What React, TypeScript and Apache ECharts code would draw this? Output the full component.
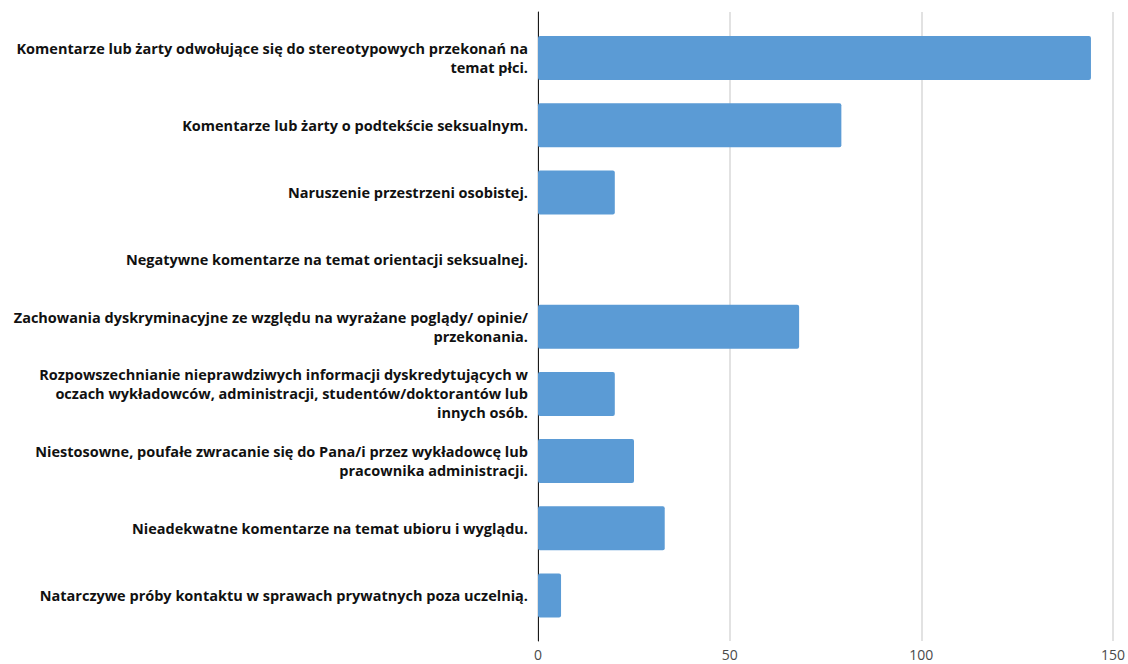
import React, { useEffect, useRef } from "react";
import * as echarts from "echarts";

const categories: string[] = [
  "Komentarze lub żarty odwołujące się do stereotypowych przekonań na\ntemat płci.",
  "Komentarze lub żarty o podtekście seksualnym.",
  "Naruszenie przestrzeni osobistej.",
  "Negatywne komentarze na temat orientacji seksualnej.",
  "Zachowania dyskryminacyjne ze względu na wyrażane poglądy/ opinie/\nprzekonania.",
  "Rozpowszechnianie nieprawdziwych informacji dyskredytujących w\noczach wykładowców, administracji, studentów/doktorantów lub\ninnych osób.",
  "Niestosowne, poufałe zwracanie się do Pana/i przez wykładowcę lub\npracownika administracji.",
  "Nieadekwatne komentarze na temat ubioru i wyglądu.",
  "Natarczywe próby kontaktu w sprawach prywatnych poza uczelnią.",
];

const values: number[] = [144, 79, 20, 0, 68, 20, 25, 33, 6];

const xMin = 0;
const xMax = 150;
const xInterval = 50;

export default function App() {
  const ref = useRef<HTMLDivElement>(null);

  useEffect(() => {
    if (!ref.current) return;
    const chart = echarts.init(ref.current, null, { renderer: "svg" });
    const font = "'Open Sans', Lato, sans-serif";
    chart.setOption({
      animation: false,
      backgroundColor: "#ffffff",
      grid: [
        { left: 538, right: 14, top: 12, bottom: 23, containLabel: false },
        { left: 538, right: 14, top: 24.5, bottom: 35, containLabel: false },
      ],
      xAxis: [
        {
          type: "value",
          gridIndex: 0,
          min: xMin,
          max: xMax,
          interval: xInterval,
          axisLine: { show: false },
          axisTick: { show: false },
          splitLine: { show: true, lineStyle: { color: "#d9d9d9", width: 1.5 } },
          axisLabel: {
            color: "#4a4a4a",
            fontFamily: font,
            fontSize: 14,
            lineHeight: 19,
            margin: 4,
          },
        },
        {
          type: "value",
          gridIndex: 1,
          min: xMin,
          max: xMax,
          interval: xInterval,
          show: false,
          splitLine: { show: false },
        },
      ],
      yAxis: [
        {
          type: "value",
          gridIndex: 0,
          min: 0,
          max: 1,
          axisLine: { show: true, onZero: false, lineStyle: { color: "#1a1a1a", width: 1 } },
          axisTick: { show: false },
          axisLabel: { show: false },
          splitLine: { show: false },
        },
        {
          type: "category",
          gridIndex: 1,
          data: categories,
          inverse: true,
          axisLine: { show: false },
          axisTick: { show: false },
          splitLine: { show: false },
          axisLabel: {
            color: "#111111",
            fontFamily: font,
            fontWeight: "bold",
            fontSize: 14.5,
            lineHeight: 19,
            align: "right",
            margin: 10,
          },
        },
      ],
      series: [
        {
          type: "bar",
          xAxisIndex: 1,
          yAxisIndex: 1,
          data: values,
          barWidth: 44,
          itemStyle: {
            color: "#5b9bd5",
            borderRadius: 2,
          },
        },
      ],
    });
    return () => chart.dispose();
  }, []);

  return (
    <div
      ref={ref}
      style={{ position: "fixed", left: 0, top: 0, width: 1128, height: 664 }}
    />
  );
}
